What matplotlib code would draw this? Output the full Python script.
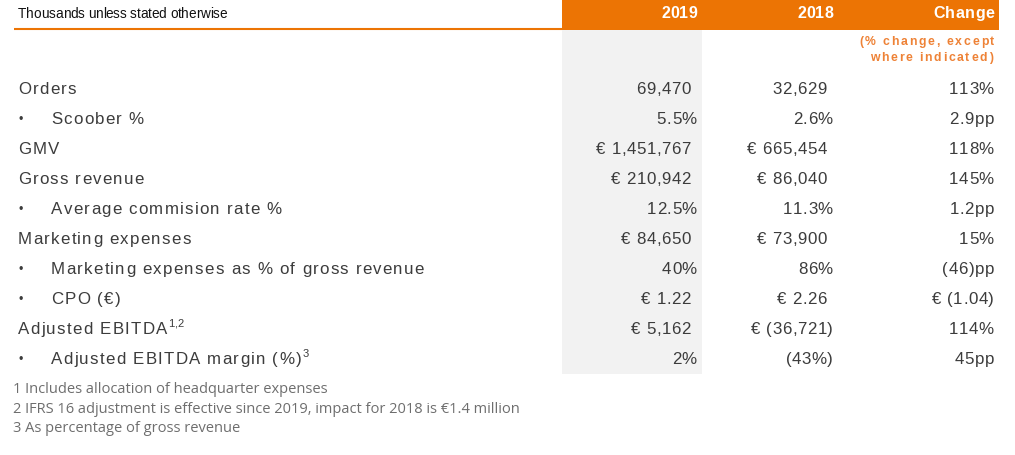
import matplotlib
matplotlib.use("Agg")
import matplotlib.pyplot as plt
from matplotlib.patches import Rectangle
from matplotlib.font_manager import FontProperties, findfont, get_font

W, H, DPI = 1015, 456, 100
ORANGE = "#EC7404"
ORANGE_TXT = "#EE8236"
GREY_BAND = "#F2F2F2"
TXT = "#3C3C3C"
NOTE_TXT = "#6E6E6E"
MAIN_FONT = "Liberation Sans"
NOTE_FONT = "Open Sans"

# ---- table data ----
HEADER_NOTE = "Thousands unless stated otherwise"
COLUMNS = ["2019", "2018", "Change"]
CHANGE_NOTE = ["(% change, except", "where indicated)"]

ROW_LABELS = [
    "Orders",
    "Scoober %",
    "GMV",
    "Gross revenue",
    "Average commision rate %",
    "Marketing expenses",
    "Marketing expenses as % of gross revenue",
    "CPO (€)",
    "Adjusted EBITDA",
    "Adjusted EBITDA margin (%)",
]
IS_SUB_ROW = [False, True, False, False, True, False, True, True, False, True]
LABEL_SUPERSCRIPT = ["", "", "", "", "", "", "", "", "1,2", "3"]

VALUES_2019 = ["69,470", "5.5%", "€ 1,451,767", "€ 210,942", "12.5%",
               "€ 84,650", "40%", "€ 1.22", "€ 5,162", "2%"]
VALUES_2018 = ["32,629", "2.6%", "€ 665,454", "€ 86,040", "11.3%",
               "€ 73,900", "86%", "€ 2.26", "€ (36,721)", "(43%)"]
CHANGE = ["113%", "2.9pp", "118%", "145%", "1.2pp",
          "15%", "(46)pp", "€ (1.04)", "114%", "45pp"]

FOOTNOTES = [
    "1 Includes allocation of headquarter expenses",
    "2 IFRS 16 adjustment is effective since 2019, impact for 2018 is €1.4 million",
    "3 As percentage of gross revenue",
]

fig = plt.figure(figsize=(W / DPI, H / DPI), dpi=DPI)
ax = fig.add_axes([0, 0, 1, 1])
ax.set_xlim(0, W)
ax.set_ylim(H, 0)
ax.axis("off")


def advances(s, size, weight, family):
    """Glyph advance widths in pixels."""
    prop = FontProperties(family=family, size=size, weight=weight)
    font = get_font(findfont(prop))
    font.set_size(size, 72)
    return [font.load_char(ord(c)).linearHoriAdvance / 65536 * DPI / 72 for c in s]


def put(x, y, s, size, color=TXT, ha="left", track=0.0, weight="normal",
        family=MAIN_FONT):
    """Draw text with letter spacing (track, px). Returns the end x."""
    adv = advances(s, size, weight, family)
    total = sum(adv) + track * (len(s) - 1)
    x0 = x - total if ha == "right" else x
    for c, a in zip(s, adv):
        if c != " ":
            ax.text(x0, y, c, fontsize=size, color=color, weight=weight,
                    family=family, ha="left", va="baseline")
        x0 += a + track
    return x0 - track


# header band + rule
band_left, band_right = 562, 999
col_right = [697, 833, 994]
ax.add_patch(Rectangle((band_left, 0), band_right - band_left, 31,
                       facecolor=ORANGE, edgecolor="none"))
ax.plot([14, band_left], [30.3, 30.3], color=ORANGE, lw=1.5,
        solid_capstyle="butt")
# shaded 2019 column
ax.add_patch(Rectangle((band_left, 31), 702 - band_left, 375 - 31,
                       facecolor=GREY_BAND, edgecolor="none"))

put(18, 17.5, HEADER_NOTE, 9.8, color="#111111", track=-0.1)
for name, xr in zip(COLUMNS, col_right):
    put(xr, 18, name, 11.5, color="white", ha="right", weight="bold",
        track=0.4 if name == "Change" else 0.0)

put(994, 45, CHANGE_NOTE[0], 8.8, color=ORANGE_TXT, ha="right",
    weight="bold", track=1.8)
put(993, 61, CHANGE_NOTE[1], 8.8, color=ORANGE_TXT, ha="right",
    weight="bold", track=1.8)

# rows
y0, dy = 94, 30
for i, label in enumerate(ROW_LABELS):
    y = y0 + i * dy
    if IS_SUB_ROW[i]:
        put(19, y - 0.5, "•", 9, track=0)
        x_end = put(51, y, label, 12.2, track=1.2)
    else:
        x_end = put(18, y, label, 12.2, track=1.2)
    if LABEL_SUPERSCRIPT[i]:
        put(x_end + 1, y - 6.5, LABEL_SUPERSCRIPT[i], 8, track=0)

    for vals, xr in zip([VALUES_2019, VALUES_2018], col_right[:2]):
        v = vals[i]
        shift = 6 if v[-1].isdigit() else 0
        put(xr - shift, y, v, 12.2, ha="right", track=0.5)
    put(col_right[2], y, CHANGE[i], 12.2, ha="right", track=0.5)

# footnotes
for j, note in enumerate(FOOTNOTES):
    ax.text(13, 393.5 + j * 19.5, note, fontsize=10.55, color=NOTE_TXT,
            family=NOTE_FONT, ha="left", va="baseline")

fig.savefig("out.png", dpi=DPI, facecolor="white")
